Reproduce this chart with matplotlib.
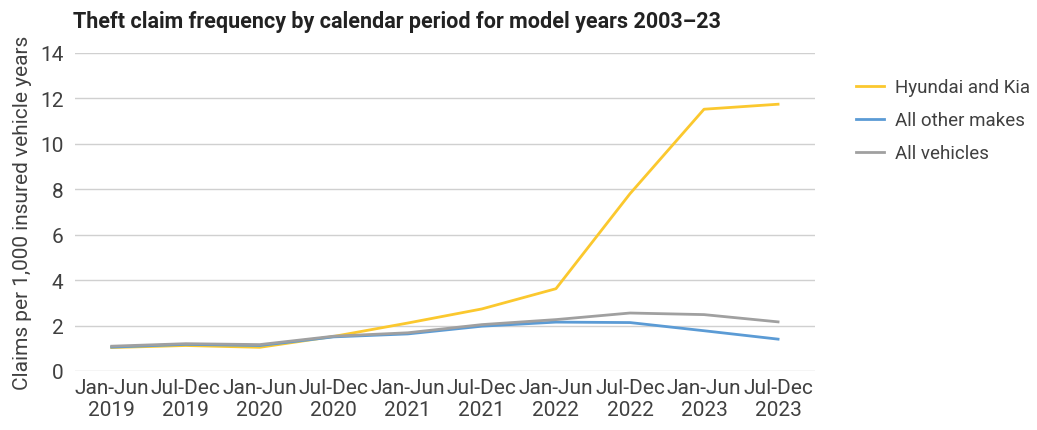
import matplotlib
matplotlib.use("Agg")
import matplotlib.pyplot as plt

periods = ["Jan-Jun\n2019", "Jul-Dec\n2019", "Jan-Jun\n2020", "Jul-Dec\n2020", "Jan-Jun\n2021",
           "Jul-Dec\n2021", "Jan-Jun\n2022", "Jul-Dec\n2022", "Jan-Jun\n2023", "Jul-Dec\n2023"]
hyundai_kia = [1.03, 1.12, 1.04, 1.52, 2.11, 2.73, 3.62, 7.8, 11.52, 11.74]
other_makes = [1.05, 1.17, 1.12, 1.50, 1.63, 1.97, 2.15, 2.13, 1.77, 1.40]
all_vehicles = [1.09, 1.20, 1.16, 1.53, 1.68, 2.04, 2.26, 2.55, 2.48, 2.16]

plt.rcParams["font.family"] = ["Roboto", "DejaVu Sans"]

txt = "#404040"
fig = plt.figure(figsize=(10.37, 4.31), dpi=100)
ax = fig.add_axes([0.072, 0.137, 0.714, 0.738])

x = range(len(periods))
ax.plot(x, hyundai_kia, color="#FBC82E", lw=2, label="Hyundai and Kia")
ax.plot(x, other_makes, color="#5B9BD5", lw=2, label="All other makes")
ax.plot(x, all_vehicles, color="#A0A0A0", lw=2, label="All vehicles")

ax.set_xlim(-0.5, len(periods) - 0.5)
ax.set_ylim(0, 14)
ax.set_yticks(range(0, 15, 2))
ax.set_xticks(list(x))
ax.set_xticklabels(periods)
ax.tick_params(length=0, labelsize=15, labelcolor=txt, pad=8)
ax.tick_params(axis="x", pad=5)
ax.grid(axis="y", color="#D0D0D0", lw=1)
ax.set_axisbelow(True)
for s in ax.spines.values():
    s.set_visible(False)

ax.set_ylabel("Claims per 1,000 insured vehicle years", fontsize=15, color=txt, labelpad=6)
fig.text(0.07, 0.935, "Theft claim frequency by calendar period for model years 2003\u201323",
         fontsize=15.5, fontweight="bold", color="#222222")

ax.legend(loc="upper left", bbox_to_anchor=(1.055, 0.92), frameon=False, fontsize=13.5,
          labelcolor=txt, handlelength=1.5, handletextpad=0.6, labelspacing=0.8,
          borderpad=0, borderaxespad=0)

fig.savefig("out.png", dpi=100)
